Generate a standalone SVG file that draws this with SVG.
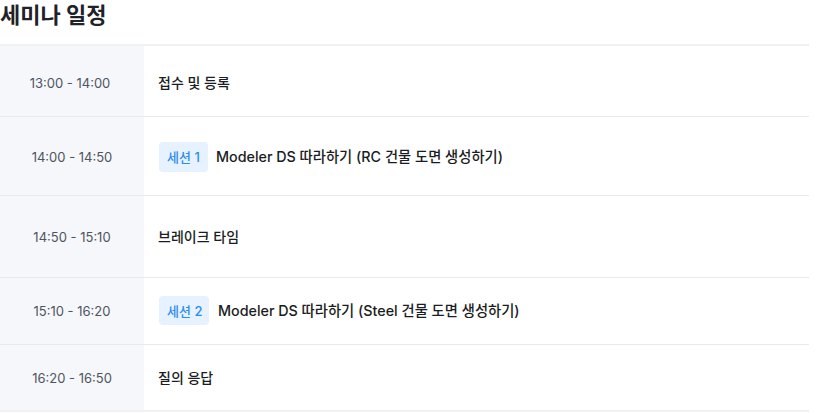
<svg xmlns="http://www.w3.org/2000/svg" width="840" height="413" viewBox="0 0 840 413">
<style>
.t{font-family:"Inter","Noto Sans CJK KR",sans-serif}
.title{font-size:22px;font-weight:700;fill:#1f2329}
.time{font-size:13px;fill:#4e5560;text-anchor:middle}
.ev{font-size:14px;font-weight:500;fill:#1a1d21}
.evl{font-size:14.3px}
.badge{fill:#e6f2ff}
.btxt{font-size:13px;font-weight:500;fill:#2d8cf0}
.col{fill:#f5f7fa}
.sep{stroke:#e6e9ee;stroke-width:1}
.edge{stroke:#f0f1f2;stroke-width:2}
</style>
<rect width="840" height="413" fill="#ffffff"/>
<text class="t title" x="0" y="23">세미나 일정</text>
<g id="table">
<rect class="col" x="0" y="45" width="144" height="366"/>
</g>
<g id="lines">
<line class="edge" x1="0" y1="45" x2="809" y2="45"/>
<line class="sep" x1="0" y1="116.5" x2="809" y2="116.5"/>
<line class="sep" x1="0" y1="195.5" x2="809" y2="195.5"/>
<line class="sep" x1="0" y1="277.5" x2="809" y2="277.5"/>
<line class="sep" x1="0" y1="344.5" x2="809" y2="344.5"/>
<line class="edge" x1="0" y1="411" x2="809" y2="411"/>
</g>
<g id="row1">
<text class="t time" x="70" y="88">13:00 - 14:00</text>
<text class="t ev" x="158" y="88">접수 및 등록</text>
</g>
<g id="row2">
<text class="t time" x="72" y="162">14:00 - 14:50</text>
<rect class="badge" x="159" y="142" width="49" height="30" rx="4"/>
<text class="t btxt" x="167" y="162">세션 1</text>
<text class="t ev evl" x="216" y="162">Modeler DS 따라하기 (RC 건물 도면 생성하기)</text>
</g>
<g id="row3">
<text class="t time" x="72" y="242">14:50 - 15:10</text>
<text class="t ev" x="158" y="242">브레이크 타임</text>
</g>
<g id="row4">
<text class="t time" x="72" y="316">15:10 - 16:20</text>
<rect class="badge" x="159" y="296" width="50" height="29" rx="4"/>
<text class="t btxt" x="167" y="316">세션 2</text>
<text class="t ev evl" x="218" y="316">Modeler DS 따라하기 (Steel 건물 도면 생성하기)</text>
</g>
<g id="row5">
<text class="t time" x="72" y="383">16:20 - 16:50</text>
<text class="t ev" x="158" y="383">질의 응답</text>
</g>
</svg>
